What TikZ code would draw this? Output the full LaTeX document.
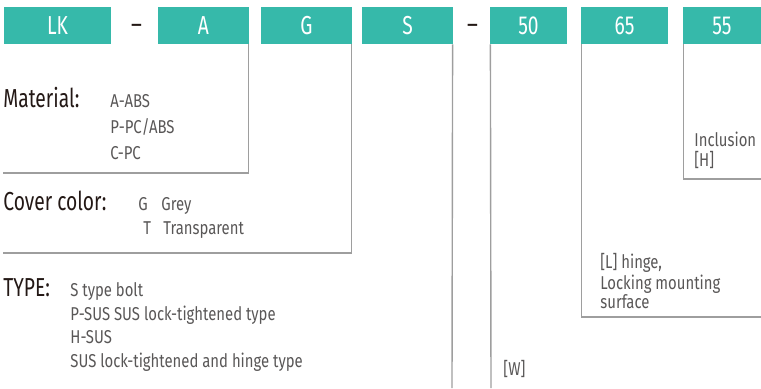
\documentclass[tikz,border=0pt]{standalone}
\usepackage{fontspec}
\setmainfont[FakeStretch=0.8]{Fira Sans}
\newfontfamily\titlefont[FakeStretch=0.74]{Fira Sans}
\usetikzlibrary{positioning}
\definecolor{codeteal}{HTML}{36B9AA}
\definecolor{labeldark}{HTML}{231815}
\definecolor{labelgray}{HTML}{595757}
\definecolor{leadgray}{HTML}{9E9E9E}

\begin{document}
\begin{tikzpicture}[x=0.5pt,y=-0.5pt,
    code/.style={rectangle,fill=codeteal,text=white,minimum height=18.5pt,inner sep=0pt,font=\titlefont\fontsize{13}{13}\selectfont},
    sep/.style={inner sep=0pt,text=labeldark,font=\fontsize{13}{13}\selectfont},
    title/.style={anchor=base west,inner sep=0pt,text=labeldark,font=\titlefont\fontsize{13}{13}\selectfont},
    item/.style={anchor=base west,inner sep=0pt,text=labelgray,font=\fontsize{9.3}{9.3}\selectfont},
    lead/.style={draw=leadgray,line width=0.7pt}]

\useasboundingbox (0,0) rectangle (761,388);

% Code blocks
\node[code,minimum width=53.5pt] (lk) at (57.5,25.5) {LK};
\node[sep] (dasha) at (136.5,29) {--};
\node[code,minimum width=45.5pt] (a) at (203.5,25.5) {A};
\node[code,minimum width=45.5pt] (g) at (306.5,25.5) {G};
\node[code,minimum width=45.5pt] (s) at (407.5,25.5) {S};
\node[sep] (dashb) at (472.5,29) {--};
\node[code,minimum width=38.5pt] (fifty) at (528.5,25.5) {50};
\node[code,minimum width=43.5pt] (sixtyfive) at (624.5,25.5) {65};
\node[code,minimum width=39pt] (fiftyfive) at (722,25.5) {55};

% Material
\node[title] (matl) at (3,107) {Material:};
\node[item] (abs) at (110,107) {A-ABS};
\node[item] (pcabs) at (110,133) {P-PC/ABS};
\node[item] (pc) at (110,159) {C-PC};

% Cover color
\node[title] (color) at (3,210) {Cover color:};
\node[item] (gkey) at (138,210) {G};
\node[item] (grey) at (161,210) {Grey};
\node[item] (tkey) at (143,234) {T};
\node[item] (transp) at (163,234) {Transparent};

% Type
\node[title] (type) at (3,296) {TYPE:};
\node[item] (bolt) at (70,296) {S type bolt};
\node[item] (psus) at (70,320) {P-SUS SUS lock-tightened type};
\node[item] (hsus) at (70,343) {H-SUS};
\node[item] (hinge) at (70,367) {SUS lock-tightened and hinge type};

% Dimensions
\node[item] (incl) at (694,146) {Inclusion};
\node[item] (hdim) at (694,166) {[H]};
\node[item] (ldim) at (600,268) {[L] hinge,};
\node[item] (lock) at (600,289) {Locking mounting};
\node[item] (surf) at (600,308) {surface};
\node[item] (wdim) at (503,375) {[W]};

% Leader lines
\coordinate (matlend) at (3,173);
\coordinate (colorend) at (3,253);
\coordinate (sfoot) at (452,388);
\coordinate (wfoot) at (491,388);
\coordinate (lend) at (761,317);
\coordinate (hend) at (761,179);

\draw[lead] ([xshift=-0.4pt]a.south east) |- (matlend);
\draw[lead] ([xshift=-0.4pt]g.south east) |- (colorend);
\draw[lead] ([xshift=-0.4pt]s.south east) -- (sfoot);
\draw[lead] ([xshift=0.4pt]fifty.south west) -- (wfoot);
\draw[lead] ([xshift=0.4pt]sixtyfive.south west) |- (lend);
\draw[lead] ([xshift=0.4pt]fiftyfive.south west) |- (hend);

\end{tikzpicture}
\end{document}
